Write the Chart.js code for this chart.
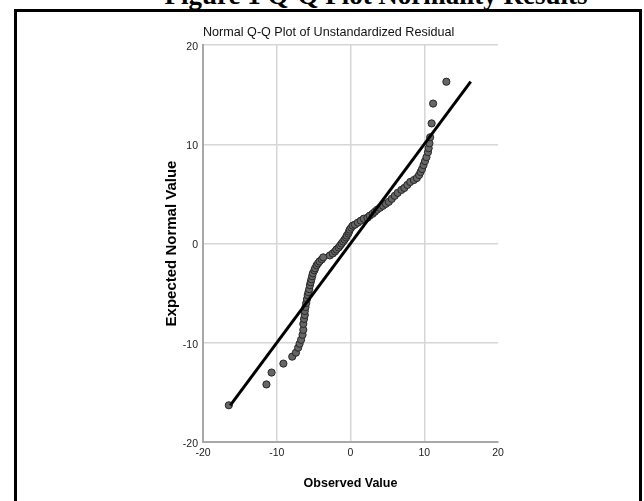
<!DOCTYPE html>
<html>
<head>
<meta charset="utf-8">
<script src="https://cdn.jsdelivr.net/npm/chart.js@4.4.0/dist/chart.umd.min.js"></script>
<style>
	html, body { margin: 0; padding: 0; background: #fff; width: 644px; height: 501px; overflow: hidden; }
	#fig { position: absolute; left: 376px; top: -18px; transform: translateX(-50%); font: bold 27px/27px "Liberation Serif", "Times New Roman", serif; white-space: nowrap; color: #000; }
	#frame { position: absolute; left: 14px; top: 9px; width: 628px; height: 520px; box-sizing: border-box; border: 3px solid #000; border-bottom: none; }
	#wrap { position: absolute; left: 0; top: 0; width: 644px; height: 501px; }
</style>
</head>
<body>
<div id="fig">Figure 1 Q-Q Plot Normality Results</div>
<div id="frame"></div>
<div id="wrap"><canvas id="ChartCanvas"></canvas></div>
<script>
// observed residual vs expected normal value
const observed = [-16.5, -11.4, -10.7, -9.1, -7.9, -7.4, -7.1, -6.9, -6.7, -6.5,
	-6.4, -6.4, -6.3, -6.2, -6.2, -6.1, -6.0, -5.9, -5.8, -5.7,
	-5.6, -5.5, -5.4, -5.3, -5.2, -5.1, -4.9, -4.8, -4.6, -4.4,
	-4.2, -3.9, -3.7, -2.8, -2.4, -2.1, -1.9, -1.6, -1.4, -1.2,
	-1.0, -0.8, -0.6, -0.5, -0.3, -0.2, -0.1, 0.1, 0.3, 0.6,
	1.0, 1.4, 1.8, 2.3, 2.6, 3.0, 3.3, 3.6, 4.0, 4.4,
	4.8, 5.2, 5.6, 6.0, 6.4, 6.9, 7.3, 7.7, 8.1, 8.6,
	9.0, 9.3, 9.5, 9.7, 9.9, 10.1, 10.3, 10.5, 10.6, 10.7,
	10.8, 11.0, 11.2, 13.0];
const expected = [-16.3, -14.2, -13.0, -12.1, -11.4, -11.0, -10.5, -10.1, -9.7, -9.2,
	-8.7, -8.1, -7.6, -7.2, -6.8, -6.4, -6.0, -5.6, -5.2, -4.9,
	-4.6, -4.2, -3.9, -3.6, -3.3, -3.0, -2.7, -2.5, -2.2, -2.0,
	-1.8, -1.6, -1.4, -1.2, -1.0, -0.8, -0.6, -0.4, -0.2, 0.0,
	0.2, 0.4, 0.6, 0.8, 1.0, 1.2, 1.4, 1.6, 1.8, 1.9,
	2.1, 2.3, 2.5, 2.6, 2.8, 3.0, 3.2, 3.4, 3.6, 3.8,
	4.0, 4.2, 4.5, 4.8, 5.1, 5.4, 5.6, 5.9, 6.2, 6.4,
	6.6, 6.9, 7.2, 7.5, 7.9, 8.3, 8.7, 9.2, 9.6, 10.1,
	10.7, 12.1, 14.1, 16.3];
// reference line y = x
const lineX = [-16.3, 16.3];
const lineY = [-16.3, 16.3];
const axisMin = -20, axisMax = 20, axisStep = 10;

function fontAvailable(name) {
	let c = document.createElement('canvas').getContext('2d');
	c.font = '40px monospace';
	let a = c.measureText('Normal Value 0123').width;
	c.font = '40px "' + name + '", monospace';
	let b = c.measureText('Normal Value 0123').width;
	return a !== b;
}

let narrow = fontAvailable('Liberation Sans Narrow');
let fam = narrow ? '"Liberation Sans Narrow", "Liberation Sans", sans-serif' : '"Liberation Sans", Arial, sans-serif';
let k = narrow ? 1 : 0.84;

var ctx = document.getElementById('ChartCanvas').getContext('2d');
var chart = new Chart(ctx, {
	type: 'scatter',
	data: {
		datasets: [{
			label: 'Reference',
			data: lineX.map((x, i) => ({ x: x, y: lineY[i] })),
			showLine: true,
			borderColor: '#000',
			borderWidth: 3,
			pointRadius: 0,
			order: 0
		}, {
			label: 'Unstandardized Residual',
			data: observed.map((x, i) => ({ x: x, y: expected[i] })),
			pointRadius: 3.6,
			pointBackgroundColor: '#666',
			pointBorderColor: '#262626',
			pointBorderWidth: 1,
			order: 1
		}]
	},
	options: {
		responsive: true,
		maintainAspectRatio: false,
		animation: false,
		layout: { padding: { left: 150, right: 146, top: 16, bottom: 0 } },
		plugins: {
			legend: { display: false },
			tooltip: { enabled: false },
			title: {
				display: true,
				text: 'Normal Q-Q Plot of Unstandardized Residual',
				align: 'start',
				fullSize: false,
				color: '#111',
				font: { family: fam, size: 15 * k, weight: 'normal', lineHeight: 18 / (15 * k) },
				padding: { top: 7.5, bottom: 3.5 }
			}
		},
		scales: {
			x: {
				type: 'linear',
				min: axisMin,
				max: axisMax,
				ticks: { stepSize: axisStep, color: '#222', padding: 5, maxRotation: 0, font: { family: fam, size: narrow ? 11 : 10.5 } },
				grid: {
					color: c => (c.tick && c.tick.value === axisMax) ? 'rgba(0,0,0,0)' : '#d6d6d6',
					lineWidth: 1.5,
					drawTicks: false
				},
				border: { color: '#a8a8a8', width: 2 },
				title: {
					display: true,
					text: 'Observed Value',
					color: '#000',
					font: { family: fam, size: narrow ? 14 : 12.5, weight: 'bold', lineHeight: 1.2 },
					padding: { top: 0, bottom: 10 }
				},
				afterFit: s => { s.height = 59; }
			},
			y: {
				type: 'linear',
				min: axisMin,
				max: axisMax,
				ticks: { stepSize: axisStep, color: '#222', padding: 5, labelOffset: 2, font: { family: fam, size: narrow ? 11 : 10.5 } },
				grid: { color: '#d6d6d6', lineWidth: 1.5, drawTicks: false },
				border: { color: '#a8a8a8', width: 2 },
				title: {
					display: true,
					text: 'Expected Normal Value',
					color: '#000',
					font: { family: '"Liberation Sans", Arial, sans-serif', size: 15, weight: 'bold', lineHeight: 1.2 },
					padding: { top: 12.5, bottom: 0 }
				},
				afterFit: s => { s.width = 53; }
			}
		}
	}
});
</script>
</body>
</html>
